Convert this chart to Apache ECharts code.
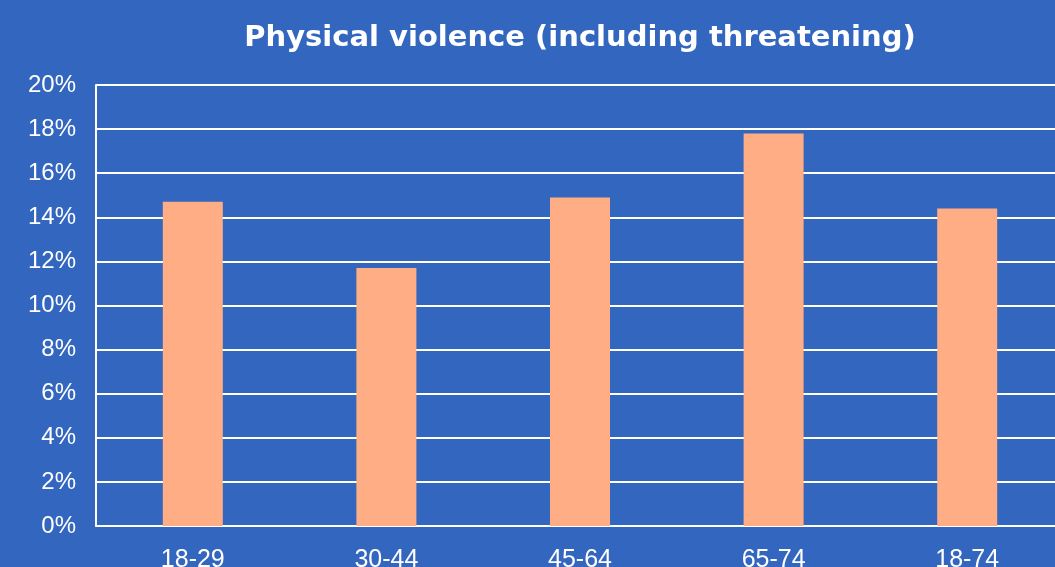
<!DOCTYPE html>
<html><head><meta charset="utf-8">
<script src="https://cdn.jsdelivr.net/npm/echarts@6/dist/echarts.min.js"></script>
<style>html,body{margin:0;padding:0;background:#3366BF;}#c{width:1055px;height:567px;}</style>
</head><body><div id="c"></div>
<script>
const categories = ['18-29','30-44','45-64','65-74','18-74'];
const values = [14.7, 11.7, 14.9, 17.8, 14.4];
const yTicks = [0,2,4,6,8,10,12,14,16,18,20];
const chart = echarts.init(document.getElementById('c'));
chart.setOption({
  backgroundColor:'#3366BF',
  animation:false,
  title:{text:'Physical violence (including threatening)',left:575,textAlign:'center',top:19,
    textStyle:{color:'#fff',fontFamily:'DejaVu Sans',fontWeight:'bold',fontSize:29}},
  grid:{left:96,top:85,height:441,width:968,outerBoundsMode:'none',containLabel:false},
  xAxis:{type:'category',data:categories,
    axisLine:{show:true,lineStyle:{color:'#fff',width:2}},
    axisTick:{show:false},
    axisLabel:{color:'#fff',fontSize:25,fontFamily:'Liberation Sans',margin:22}},
  yAxis:{type:'value',min:0,max:20,interval:2,
    axisLine:{show:true,lineStyle:{color:'#fff',width:2}},
    axisTick:{show:false},
    splitLine:{lineStyle:{color:'#fff',width:2}},
    axisLabel:{color:'#fff',fontSize:24,fontFamily:'Liberation Sans',margin:20,
      formatter:v=>yTicks.includes(v)?v+'%':''}},
  series:[{type:'bar',data:values,barWidth:60,itemStyle:{color:'#FFAD85'}}]
});
</script></body></html>
